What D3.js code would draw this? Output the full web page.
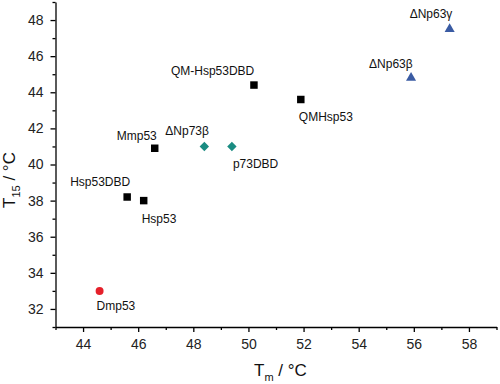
<!DOCTYPE html>
<html>
<head>
<meta charset="utf-8">
<script src="https://cdn.jsdelivr.net/npm/d3@7"></script>
<style>
  body { margin: 0; background: #fff; }
  svg { display: block; font-family: 'Liberation Sans', Arial, sans-serif; }
  .axis path, .axis line { stroke: #000; stroke-width: 1.3; }
  .axis text { font-size: 14px; fill: #222; }
  .label { font-size: 12px; fill: #111; }
</style>
</head>
<body>
<div id="chart"></div>
<script>
const names = ['Dmp53', 'Hsp53DBD', 'Hsp53', 'Mmp53', '\u0394Np73\u03b2', 'p73DBD',
  'QM-Hsp53DBD', 'QMHsp53', '\u0394Np63\u03b2', '\u0394Np63\u03b3'];
const tm = [44.6, 45.6, 46.2, 46.6, 48.4, 49.4, 50.2, 51.9, 55.9, 57.3];
const t15 = [33.0, 38.2, 38.0, 40.9, 41.0, 41.0, 44.4, 43.6, 44.8, 47.5];
const family = ['dmp', 'p53', 'p53', 'p53', 'p73', 'p73', 'p53', 'p53', 'p63', 'p63'];
const xTicks = [44, 46, 48, 50, 52, 54, 56, 58];
const yTicks = [32, 34, 36, 38, 40, 42, 44, 46, 48];

// label placement relative to each marker (dx, dy baseline)
const labelOffsets = [[-3, 19], [-57, -11], [-2, 22], [-38, -8], [-39, -11],
  [1, 22], [-83, -10], [-2, 21], [-42, -10], [-40, -11]];

const styles = {
  p53: { color: '#000000', shape: d3.symbolSquare, size: 56, rotate: 0 },
  dmp: { color: '#e5202a', shape: d3.symbolCircle, size: 50, rotate: 0 },
  p73: { color: '#1a8c82', shape: d3.symbolSquare, size: 44, rotate: 45 },
  p63: { color: '#3a5ba3', shape: d3.symbolTriangle, size: 44, rotate: 0 },
};

const width = 500;
const height = 384;
const margins = { top: 2, right: 3.5, bottom: 57, left: 55.5 };

const svg = d3.select('#chart')
  .append('svg')
    .attr('width', width)
    .attr('height', height);

const scaleX = d3.scaleLinear()
  .domain([43, 59])
  .range([margins.left, width - margins.right]);
const scaleY = d3.scaleLinear()
  .domain([31, 49])
  .range([height - margins.bottom, margins.top]);

const oddRange = (a, b) => d3.range(a, b + 1, 2);

// minor ticks first, then the labelled axes
svg.append('g')
  .attr('class', 'axis')
  .attr('transform', `translate(0, ${scaleY(31)})`)
  .call(d3.axisBottom(scaleX).tickValues(oddRange(43, 59)).tickSize(3).tickFormat(''))
  .select('.domain').remove();
svg.append('g')
  .attr('class', 'axis')
  .attr('transform', `translate(${scaleX(43)}, 0)`)
  .call(d3.axisLeft(scaleY).tickValues(oddRange(31, 49)).tickSize(3).tickFormat(''))
  .select('.domain').remove();

svg.append('g')
  .attr('class', 'axis')
  .attr('transform', `translate(0, ${scaleY(31)})`)
  .call(d3.axisBottom(scaleX).tickValues(xTicks).tickSize(5).tickSizeOuter(0).tickPadding(7));
svg.append('g')
  .attr('class', 'axis')
  .attr('transform', `translate(${scaleX(43)}, 0)`)
  .call(d3.axisLeft(scaleY).tickValues(yTicks).tickSize(5).tickSizeOuter(0).tickPadding(7));

// axis titles
const xTitle = svg.append('text')
  .attr('x', 254)
  .attr('y', 376)
  .style('font-size', '17px')
  .attr('fill', '#111');
xTitle.append('tspan').text('T');
xTitle.append('tspan').attr('dy', 5).style('font-size', '11px').text('m');
xTitle.append('tspan').attr('dy', -5).text(' / \u00b0C');

const yTitle = svg.append('text')
  .attr('transform', 'translate(15, 180) rotate(-90)')
  .attr('text-anchor', 'middle')
  .style('font-size', '17px')
  .attr('fill', '#111');
yTitle.append('tspan').text('T');
yTitle.append('tspan').attr('dy', 5).style('font-size', '11px').text('15');
yTitle.append('tspan').attr('dy', -5).text(' / \u00b0C');

// markers
const points = names.map((name, i) => ({ name, tm: tm[i], t15: t15[i], family: family[i], off: labelOffsets[i] }));

svg.append('g')
  .selectAll('path')
  .data(points)
  .enter()
  .append('path')
    .attr('d', d => d3.symbol().type(styles[d.family].shape).size(styles[d.family].size)())
    .attr('transform', d => `translate(${scaleX(d.tm)}, ${scaleY(d.t15)}) rotate(${styles[d.family].rotate})`)
    .attr('fill', d => styles[d.family].color);

svg.append('g')
  .selectAll('text')
  .data(points)
  .enter()
  .append('text')
    .attr('class', 'label')
    .attr('x', d => scaleX(d.tm) + d.off[0])
    .attr('y', d => scaleY(d.t15) + d.off[1])
    .text(d => d.name);
</script>
</body>
</html>
